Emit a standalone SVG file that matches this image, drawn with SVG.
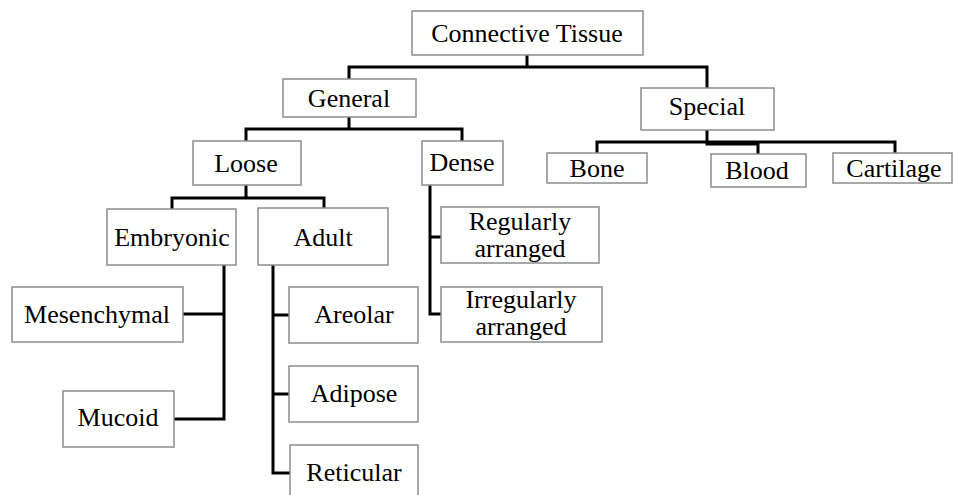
<svg xmlns="http://www.w3.org/2000/svg" width="953" height="495" viewBox="0 0 953 495">
<style>
.box{fill:#fff;stroke:#8c8c8c;stroke-width:1.5}
.t{font-family:'Liberation Serif','Times New Roman',Times,serif;font-size:26px;fill:#000;text-anchor:middle}
.c{fill:none;stroke:#000;stroke-width:3;stroke-linejoin:miter;stroke-linecap:square}
</style>
<rect width="953" height="495" fill="#fff"/>
<g id="connectors">
<path class="c" d="M527 55V67M349 79V67H707V88"/>
<path class="c" d="M349 117V129M246 141V129H462V141"/>
<path class="c" d="M707 130V142M597 153V142H895V153M758 154V142M707 144H758"/>
<path class="c" d="M246 185V198M172 209V198H324V208"/>
<path class="c" d="M224 265V419H174M183 314H224"/>
<path class="c" d="M273 265V473H290M273 315H289M273 394H289"/>
<path class="c" d="M430 185V314H441M430 237H441"/>
</g>
<g id="connective-tissue"><rect class="box" x="412" y="11" width="231" height="44"/><text class="t" x="527" y="42">Connective Tissue</text></g>
<g id="general"><rect class="box" x="283" y="79" width="133" height="38"/><text class="t" x="349" y="107">General</text></g>
<g id="special"><rect class="box" x="641" y="88" width="133" height="42"/><text class="t" x="707" y="115">Special</text></g>
<g id="bone"><rect class="box" x="547" y="153" width="100" height="30"/><text class="t" x="597" y="177">Bone</text></g>
<g id="blood"><rect class="box" x="711" y="154" width="95" height="33"/><text class="t" x="757" y="179">Blood</text></g>
<g id="cartilage"><rect class="box" x="833" y="153" width="119" height="30"/><text class="t" x="894" y="177">Cartilage</text></g>
<g id="loose"><rect class="box" x="193" y="141" width="108" height="44"/><text class="t" x="246" y="172">Loose</text></g>
<g id="dense"><rect class="box" x="422" y="141" width="81" height="44"/><text class="t" x="462" y="171">Dense</text></g>
<g id="embryonic"><rect class="box" x="107" y="209" width="129" height="56"/><text class="t" x="172" y="246">Embryonic</text></g>
<g id="adult"><rect class="box" x="258" y="208" width="130" height="57"/><text class="t" x="323" y="246">Adult</text></g>
<g id="mesenchymal"><rect class="box" x="12" y="287" width="171" height="55"/><text class="t" x="97" y="323">Mesenchymal</text></g>
<g id="mucoid"><rect class="box" x="63" y="391" width="111" height="56"/><text class="t" x="118" y="426">Mucoid</text></g>
<g id="areolar"><rect class="box" x="289" y="287" width="129" height="56"/><text class="t" x="354" y="323">Areolar</text></g>
<g id="adipose"><rect class="box" x="289" y="366" width="129" height="56"/><text class="t" x="354" y="402">Adipose</text></g>
<g id="reticular"><rect class="box" x="290" y="445" width="128" height="60"/><text class="t" x="354" y="481">Reticular</text></g>
<g id="regularly-arranged"><rect class="box" x="441" y="207" width="158" height="56"/><text class="t" x="520" y="230">Regularly</text><text class="t" x="520" y="257">arranged</text></g>
<g id="irregularly-arranged"><rect class="box" x="441" y="287" width="161" height="55"/><text class="t" x="521" y="308">Irregularly</text><text class="t" x="521" y="335">arranged</text></g>
</svg>
